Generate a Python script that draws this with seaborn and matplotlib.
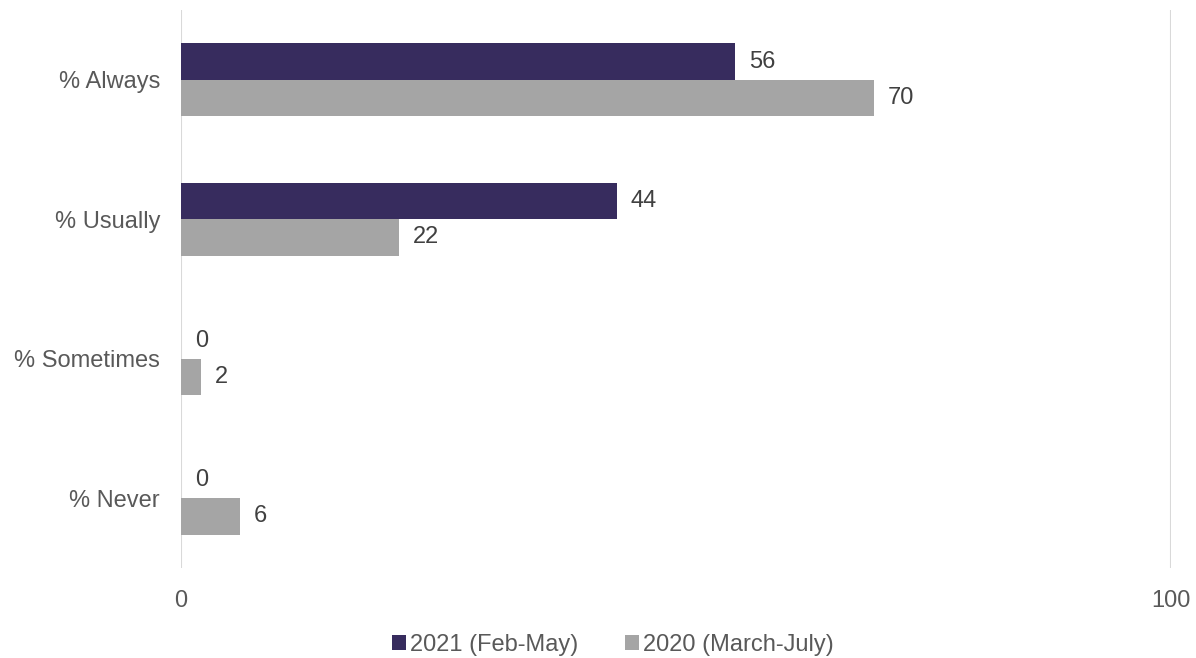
import numpy as np
import pandas as pd
import matplotlib
matplotlib.use("Agg")
import matplotlib.pyplot as plt
import seaborn as sns

# data
categories = ['% Always', '% Usually', '% Sometimes', '% Never']
series_2021 = [56, 44, 0, 0]
series_2020 = [70, 22, 2, 6]
series_names = ['2021 (Feb-May)', '2020 (March-July)']

df = pd.DataFrame({
    'category': categories * 2,
    'value': series_2021 + series_2020,
    'series': [series_names[0]] * 4 + [series_names[1]] * 4,
})

sns.set_theme(style='white')
plt.rcParams['font.family'] = ['Liberation Sans', 'DejaVu Sans']

fig = plt.figure(figsize=(11.96, 6.58), dpi=100)
ax = fig.add_axes([0.1513, 0.1368, 0.8278, 0.848])

palette = {series_names[0]: '#372C5E', series_names[1]: '#A5A5A5'}
sns.barplot(data=df, y='category', x='value', hue='series', order=categories,
            hue_order=series_names, palette=palette, width=0.52,
            saturation=1, orient='h', linewidth=0, ax=ax)

for cont in ax.containers:
    ax.bar_label(cont, padding=10, fontsize=17, color='#404040')

ax.set_xlim(0, 100)
ax.set_xticks([0, 100])
ax.set_ylim(3.5, -0.5)
ax.grid(axis='x', color='#D9D9D9', linewidth=1.5)
ax.set_axisbelow(True)
for s in ax.spines.values():
    s.set_visible(False)
ax.tick_params(axis='both', length=0, labelsize=17, colors='#595959')
ax.tick_params(axis='y', pad=15)
ax.tick_params(axis='x', pad=16)
ax.set_xlabel('')
ax.set_ylabel('')

ax.legend(loc='upper center', bbox_to_anchor=(0.436, -0.08), ncol=2, frameon=False,
          fontsize=17, handlelength=0.6, handleheight=0.6, handletextpad=0.15,
          columnspacing=2.0, labelcolor='#595959')

fig.savefig('out.png', dpi=100)
